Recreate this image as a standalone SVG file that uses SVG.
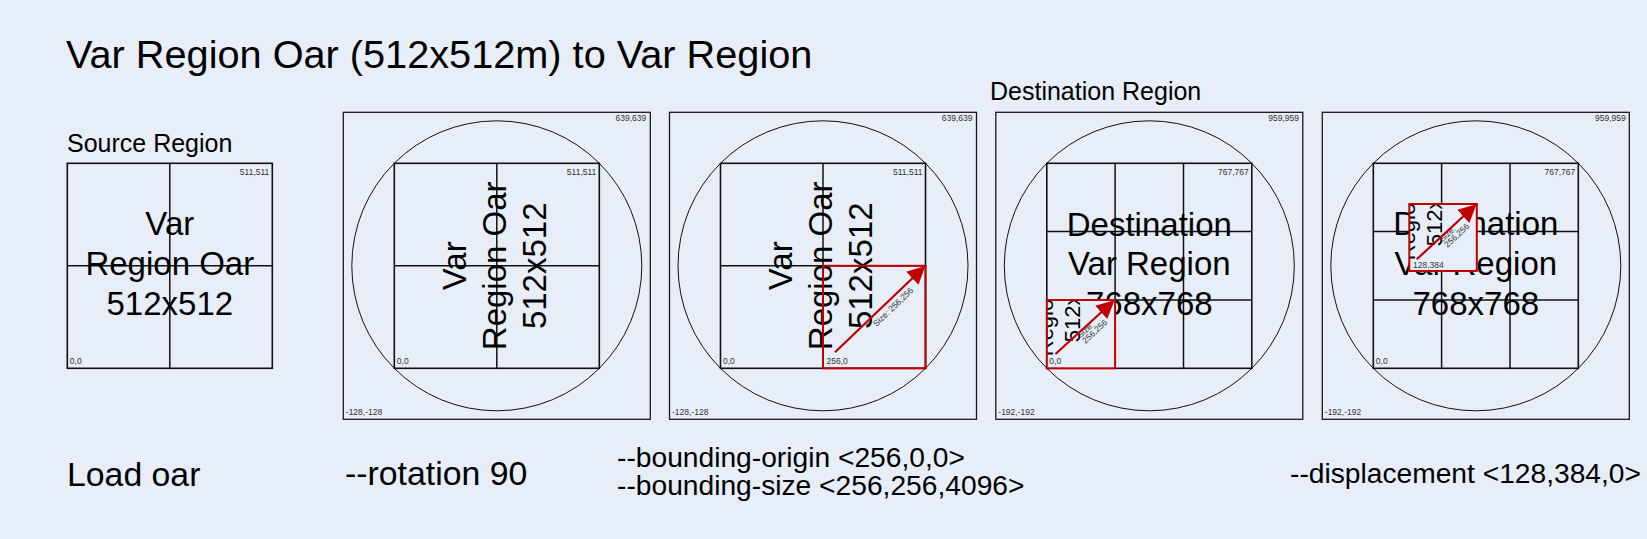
<svg xmlns="http://www.w3.org/2000/svg" width="1647" height="539" viewBox="0 0 1647 539">
<style>
text{font-family:"Liberation Sans",Arial,sans-serif;fill:#000}
.title{font-size:39.7px}
.head{font-size:25px}
.cap{font-size:33.8px}
.cap2{font-size:28.2px}
.big{font-size:33px;text-anchor:middle}
.sm{font-size:8.5px;fill:#333}
.end{text-anchor:end}
.outer{fill:none;stroke:#1a1a1a;stroke-width:1.3}
.box{fill:none;stroke:#111;stroke-width:1.6}
.grid{stroke:#111;stroke-width:1.5}
.circ{fill:none;stroke:#111;stroke-width:1}
.redbox{fill:none;stroke:#c00000;stroke-width:2}
.tilebg{fill:#e7eef8}
.arrow{stroke:#c00000;stroke-width:2.2;fill:none;marker-end:url(#ah)}
.lbl{font-size:8.5px;fill:#333}
</style>
<defs>
<marker id="ah" markerUnits="userSpaceOnUse" markerWidth="18" markerHeight="18" viewBox="0 -9 18 18" refX="15" refY="0" orient="auto">
<path d="M0,-9 L18,0 L0,9 z" fill="#c00000"/>
</marker>
<clipPath id="tc"><rect x="0" y="0" width="102.5" height="102.5"/></clipPath>
<g id="tileText">
<g clip-path="url(#tc)">
<g transform="rotate(-90)">
<text class="big" x="0" y="-30.8">Var</text>
<text class="big" x="0" y="9.2">Region Oar</text>
<text class="big" x="0" y="49.2">512x512</text>
</g>
</g>
</g>
</defs>
<rect x="0" y="0" width="1647" height="539" fill="#e7eef8"/>

<g id="title"><text class="title" x="66" y="68">Var Region Oar (512x512m) to Var Region</text></g>

<g id="source-region">
<text class="head" x="67" y="152">Source Region</text>
<rect class="box" x="67.3" y="163.3" width="205" height="205"/>
<line class="grid" x1="169.8" y1="163.3" x2="169.8" y2="368.3"/>
<line class="grid" x1="67.3" y1="265.8" x2="272.3" y2="265.8"/>
<text class="big" x="169.8" y="235">Var</text>
<text class="big" x="169.8" y="275">Region Oar</text>
<text class="big" x="169.8" y="315">512x512</text>
<text class="sm end" x="269.3" y="175.3">511,511</text>
<text class="sm" x="69.8" y="363.8">0,0</text>
</g>

<g id="rotated-region">
<rect class="outer" x="343.3" y="112.3" width="307" height="307"/>
<circle class="circ" cx="496.8" cy="265.8" r="145"/>
<rect class="box" x="394.3" y="163.3" width="205" height="205"/>
<line class="grid" x1="496.8" y1="163.3" x2="496.8" y2="368.3"/>
<line class="grid" x1="394.3" y1="265.8" x2="599.3" y2="265.8"/>
<g transform="rotate(-90 496.8 265.8)">
<text class="big" x="496.8" y="235">Var</text>
<text class="big" x="496.8" y="275">Region Oar</text>
<text class="big" x="496.8" y="315">512x512</text>
</g>
<text class="sm end" x="646.3" y="120.5">639,639</text>
<text class="sm" x="345.8" y="415">-128,-128</text>
<text class="sm end" x="596.3" y="175.3">511,511</text>
<text class="sm" x="396.8" y="363.8">0,0</text>
</g>

<g id="bounding-region">
<rect class="outer" x="669.5" y="112.3" width="307" height="307"/>
<circle class="circ" cx="823" cy="265.8" r="145"/>
<rect class="box" x="720.5" y="163.3" width="205" height="205"/>
<line class="grid" x1="823" y1="163.3" x2="823" y2="368.3"/>
<line class="grid" x1="720.5" y1="265.8" x2="925.5" y2="265.8"/>
<g transform="rotate(-90 823 265.8)">
<text class="big" x="823" y="235">Var</text>
<text class="big" x="823" y="275">Region Oar</text>
<text class="big" x="823" y="315">512x512</text>
</g>
<rect class="redbox" x="823" y="265.8" width="102.5" height="102.5"/>
<text class="sm end" x="972.5" y="120.5">639,639</text>
<text class="sm" x="672" y="415">-128,-128</text>
<text class="sm end" x="922.5" y="175.3">511,511</text>
<text class="sm" x="723" y="363.8">0,0</text>
<text class="sm" x="826.5" y="364">256,0</text>
<text class="lbl" transform="translate(876.5,327) rotate(-44)">Size: 256,256</text>
</g>

<g id="destination-region">
<text class="head" x="990" y="100">Destination Region</text>
<rect class="outer" x="995.8" y="112.3" width="307" height="307"/>
<circle class="circ" cx="1149.3" cy="265.8" r="145"/>
<rect class="box" x="1046.8" y="163.3" width="205" height="205"/>
<line class="grid" x1="1115.1" y1="163.3" x2="1115.1" y2="368.3"/>
<line class="grid" x1="1183.5" y1="163.3" x2="1183.5" y2="368.3"/>
<line class="grid" x1="1046.8" y1="231.6" x2="1251.8" y2="231.6"/>
<line class="grid" x1="1046.8" y1="300" x2="1251.8" y2="300"/>
<text class="big" x="1149.3" y="235.5">Destination</text>
<text class="big" x="1149.3" y="275">Var Region</text>
<text class="big" x="1149.3" y="315">768x768</text>
<rect class="tilebg" x="1046.8" y="300" width="68.3" height="68.3"/>
<use href="#tileText" transform="translate(1046.8,300) scale(0.6667)"/>
<rect class="redbox" x="1046.8" y="300" width="68.3" height="68.3"/>
<text class="sm end" x="1299" y="120.5">959,959</text>
<text class="sm" x="998.3" y="415">-192,-192</text>
<text class="sm end" x="1248.8" y="175.3">767,767</text>
<text class="sm" x="1049.3" y="363.8">0,0</text>
<text class="lbl" transform="translate(1085.5,344) rotate(-43)"><tspan x="0" y="-7.5">Size:</tspan><tspan x="0" y="0">256,256</tspan></text>
</g>

<g id="displaced-region">
<rect class="outer" x="1322.3" y="112.3" width="307" height="307"/>
<circle class="circ" cx="1475.8" cy="265.8" r="145"/>
<rect class="box" x="1373.3" y="163.3" width="205" height="205"/>
<line class="grid" x1="1441.6" y1="163.3" x2="1441.6" y2="368.3"/>
<line class="grid" x1="1510" y1="163.3" x2="1510" y2="368.3"/>
<line class="grid" x1="1373.3" y1="231.6" x2="1578.3" y2="231.6"/>
<line class="grid" x1="1373.3" y1="300" x2="1578.3" y2="300"/>
<text class="big" x="1475.8" y="235">Destination</text>
<text class="big" x="1475.8" y="275">Var Region</text>
<text class="big" x="1475.8" y="315">768x768</text>
<rect class="tilebg" x="1409.3" y="204" width="67.5" height="67"/>
<use href="#tileText" transform="translate(1409.3,204) scale(0.6667)"/>
<rect class="redbox" x="1409.3" y="204" width="67.5" height="67"/>
<text class="sm end" x="1625.8" y="120.5">959,959</text>
<text class="sm" x="1324.8" y="415">-192,-192</text>
<text class="sm end" x="1575.3" y="175.3">767,767</text>
<text class="sm" x="1375.8" y="363.8">0,0</text>
<text class="sm" x="1413" y="268.3">128,384</text>
<text class="lbl" transform="translate(1447.5,248) rotate(-43)"><tspan x="0" y="-7.5">Size:</tspan><tspan x="0" y="0">256,256</tspan></text>
</g>

<g id="captions">
<text class="cap" x="67" y="486">Load oar</text>
<text class="cap" x="345" y="485">--rotation 90</text>
<text class="cap2" x="617" y="467">--bounding-origin &lt;256,0,0&gt;</text>
<text class="cap2" x="617" y="495">--bounding-size &lt;256,256,4096&gt;</text>
<text class="cap2" x="1290" y="483">--displacement &lt;128,384,0&gt;</text>
</g>

<g id="connectors">
<line class="arrow" x1="835" y1="352.3" x2="923.1" y2="268"/>
<line class="arrow" x1="1055.5" y1="354" x2="1112.3" y2="302.3"/>
<line class="arrow" x1="1416.7" y1="259.3" x2="1474.3" y2="206.3"/>
</g>
</svg>
